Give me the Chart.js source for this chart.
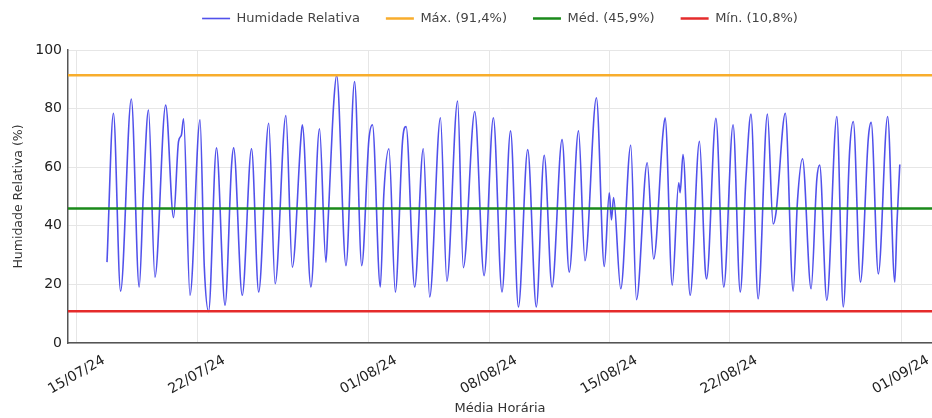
<!DOCTYPE html>
<html>
<head>
<meta charset="utf-8">
<script src="https://cdn.jsdelivr.net/npm/chart.js@4.4.1/dist/chart.umd.min.js"></script>
<style>
  html, body { margin: 0; padding: 0; background: #ffffff; }
  canvas { display: block; }
</style>
</head>
<body>
<canvas id="c" width="932" height="418"></canvas>
<script>
// Hourly relative humidity, daily highs, lows and turning points (DD/MM HH:MM, 2024)
const rhTimes = [
  '16/07 18:00', '17/07 03:00', '17/07 13:00', '18/07 04:00', '18/07 15:00', '18/07 21:00',
  '19/07 04:00', '19/07 13:00', '20/07 04:00', '20/07 15:00', '20/07 22:00', '21/07 02:00',
  '21/07 05:00', '21/07 14:00', '22/07 04:00', '22/07 10:00', '22/07 16:00', '23/07 03:00',
  '23/07 15:00', '24/07 00:00', '24/07 03:00', '24/07 15:00', '25/07 04:00', '25/07 14:00',
  '26/07 04:00', '26/07 13:00', '27/07 04:00', '27/07 13:00', '28/07 01:00', '28/07 03:00',
  '28/07 15:00', '29/07 03:00', '29/07 12:00', '29/07 15:00', '29/07 23:00', '30/07 03:00',
  '30/07 16:00', '31/07 04:00', '31/07 14:00', '01/08 00:00', '01/08 05:00', '01/08 16:00',
  '01/08 21:00', '02/08 04:00', '02/08 13:00', '02/08 23:00', '03/08 04:00', '03/08 16:00',
  '04/08 04:00', '04/08 13:00', '05/08 04:00', '05/08 13:00', '06/08 04:00', '06/08 12:00',
  '07/08 04:00', '07/08 17:00', '08/08 06:00', '08/08 18:00', '09/08 06:00', '09/08 17:00',
  '10/08 06:00', '10/08 18:00', '11/08 05:00', '11/08 16:00', '12/08 06:00', '12/08 16:00',
  '13/08 05:00', '13/08 14:00', '14/08 06:00', '14/08 17:00', '15/08 00:00', '15/08 03:00',
  '15/08 06:00', '15/08 16:00', '16/08 06:00', '16/08 14:00', '17/08 05:00', '17/08 14:00',
  '18/08 03:00', '18/08 06:00', '18/08 16:00', '19/08 01:00', '19/08 03:00', '19/08 07:00',
  '19/08 17:00', '20/08 06:00', '20/08 14:00', '20/08 16:00', '21/08 05:00', '21/08 16:00',
  '22/08 05:00', '22/08 15:00', '22/08 23:00', '23/08 06:00', '23/08 16:00', '24/08 05:00',
  '24/08 13:00', '24/08 17:00', '25/08 06:00', '25/08 17:00', '25/08 23:00', '26/08 06:00',
  '26/08 18:00', '27/08 02:00', '27/08 06:00', '27/08 16:00', '28/08 06:00', '28/08 15:00',
  '29/08 00:00', '29/08 05:00', '29/08 15:00', '30/08 02:00', '30/08 06:00', '30/08 16:00',
  '31/08 05:00', '31/08 15:00', '31/08 18:00', '31/08 22:00'
];
const rhValues = [
  27.6, 78.4, 17.7, 83.3, 19.1, 52.0,
  79.5, 22.5, 81.2, 42.8, 68.8, 71.0,
  76.5, 16.3, 76.2, 25.9, 10.8, 66.6,
  12.9, 60.3, 66.6, 16.3, 66.3, 17.4,
  75.0, 20.2, 77.6, 25.9, 69.9, 74.5,
  19.1, 73.1, 27.6, 41.7, 82.4, 91.4,
  26.4, 89.2, 26.4, 69.4, 74.5, 19.1,
  51.3, 66.3, 17.4, 68.8, 73.9, 19.1,
  66.3, 15.7, 76.9, 21.1, 82.6, 25.7,
  79.0, 23.0, 76.9, 17.4, 72.4, 12.3,
  66.0, 12.3, 64.1, 19.1, 69.4, 24.2,
  72.4, 28.1, 83.7, 26.1, 51.3, 42.0,
  49.6, 18.5, 67.5, 14.8, 61.5, 28.7,
  71.6, 76.9, 19.7, 54.7, 51.3, 64.3,
  16.3, 68.8, 25.3, 21.9, 76.7, 19.1,
  74.5, 17.4, 56.4, 78.1, 15.1, 78.1,
  40.6, 44.5, 78.4, 17.7, 48.5, 62.9,
  18.5, 55.8, 60.7, 14.6, 77.3, 12.3,
  66.0, 75.6, 20.8, 69.9, 75.3, 23.6,
  77.3, 20.8, 40.6, 60.9
];

// Reference levels
const refValues = [91.4, 45.9, 10.8];
const refLabels = ['Máx. (91,4%)', 'Méd. (45,9%)', 'Mín. (10,8%)'];
const refColors = ['#f8ad2c', '#1a8a1a', '#e52b2b'];

// Date ticks and axis span
const tickDates = ['15/07/24', '22/07/24', '01/08/24', '08/08/24', '15/08/24', '22/08/24', '01/09/24'];
const axisStart = '14/07 11:30';
const axisEnd = '02/09 19:00';
const yTicks = [0, 20, 40, 60, 80, 100];

function stamp(s) {
  const [d, t] = s.split(' ');
  const [dd, mm] = d.split('/').map(Number);
  const [hh, mi] = t.split(':').map(Number);
  return Date.UTC(2024, mm - 1, dd, hh, mi);
}
function tickStamp(s) {
  const [dd, mm, yy] = s.split('/').map(Number);
  return Date.UTC(2000 + yy, mm - 1, dd);
}

const xMin = stamp(axisStart);
const xMax = stamp(axisEnd);
const tickValues = tickDates.map(tickStamp);

Chart.defaults.font.family = "'DejaVu Sans', sans-serif";

const datasets = [{
  label: 'Humidade Relativa',
  data: rhTimes.map((t, i) => ({ x: stamp(t), y: rhValues[i] })),
  borderColor: 'rgba(50, 50, 232, 0.85)',
  backgroundColor: 'rgba(50, 50, 232, 0.85)',
  borderWidth: 1.6,
  pointRadius: 0,
  cubicInterpolationMode: 'monotone',
  order: 1
}].concat(refValues.map((v, i) => ({
  label: refLabels[i],
  data: [{ x: xMin, y: v }, { x: xMax, y: v }],
  borderColor: refColors[i],
  backgroundColor: refColors[i],
  borderWidth: 2.5,
  pointRadius: 0,
  order: 0
})));

// Lift the legend row closer to the top edge without moving the plot
const legendLift = {
  id: 'legendLift',
  afterLayout(chart) {
    const lg = chart.legend;
    if (lg) { lg.top -= 15; lg.bottom -= 15; }
  }
};

new Chart(document.getElementById('c'), {
  type: 'line',
  data: { datasets },
  plugins: [legendLift],
  options: {
    responsive: false,
    animation: false,
    devicePixelRatio: 1,
    layout: { padding: { left: 0, right: 0, top: 1, bottom: 0 } },
    plugins: {
      tooltip: { enabled: false },
      legend: {
        position: 'top',
        fullSize: false,
        labels: {
          usePointStyle: true,
          pointStyle: 'line',
          pointStyleWidth: 28,
          padding: 26,
          color: '#444',
          font: { size: 13 },
          sort: (a, b) => a.datasetIndex - b.datasetIndex
        }
      }
    },
    scales: {
      x: {
        type: 'linear',
        min: xMin,
        max: xMax,
        afterBuildTicks: (scale) => { scale.ticks = tickValues.map(v => ({ value: v })); },
        afterFit: (scale) => { scale.height = 75; },
        ticks: {
          autoSkip: false,
          minRotation: 30,
          maxRotation: 30,
          labelOffset: 27,
          padding: 9,
          color: '#222',
          font: { size: 14 },
          callback: (v) => {
            const i = tickValues.indexOf(v);
            return i >= 0 ? tickDates[i] : '';
          }
        },
        grid: { color: '#e6e6e6', lineWidth: 1, drawTicks: false },
        border: { color: '#555', width: 1.5 },
        title: {
          display: true,
          text: 'Média Horária',
          color: '#333',
          font: { size: 13 },
          padding: { top: 0, bottom: 2 }
        }
      },
      y: {
        min: 0,
        max: 100,
        afterBuildTicks: (scale) => { scale.ticks = yTicks.map(v => ({ value: v })); },
        afterFit: (scale) => { scale.width = 68; },
        ticks: {
          padding: 6,
          color: '#222',
          font: { size: 14 }
        },
        grid: { color: '#e6e6e6', lineWidth: 1, drawTicks: false },
        border: { color: '#555', width: 1.5 },
        title: {
          display: true,
          text: 'Humidade Relativa (%)',
          color: '#333',
          font: { size: 12.5 },
          padding: { top: 11, bottom: 0 }
        }
      }
    }
  }
});
</script>
</body>
</html>
